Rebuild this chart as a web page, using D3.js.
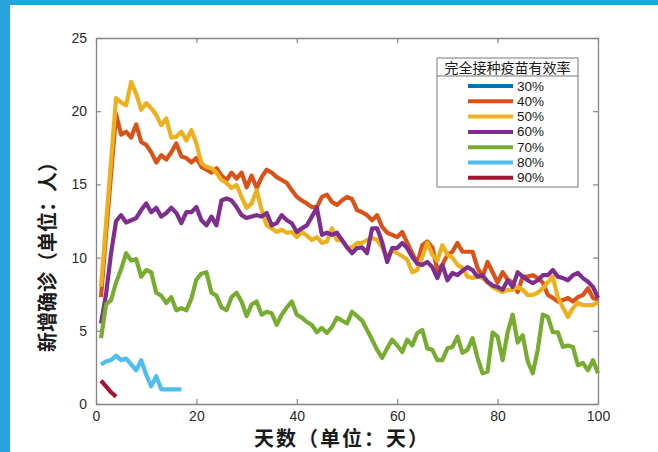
<!DOCTYPE html>
<html><head><meta charset="utf-8">
<script src="https://cdn.jsdelivr.net/npm/d3@7/dist/d3.min.js"></script>
<style>
html,body{margin:0;padding:0;background:#fff;}
svg{display:block;}
</style></head>
<body>
<script>
// ---- data ----
const seriesNames = ["30%","40%","50%","60%","70%","80%","90%"];
const seriesColors = ["#0072BD","#D95319","#EDB120","#7E2F8E","#77AC30","#4DBEEE","#A2142F"];
const xTicks = [0,20,40,60,80,100];
const yTicks = [0,5,10,15,20,25];
const legendTitle = "完全接种疫苗有效率";
const xTitle = "天数（单位：天）";
const yTitle = "新增确诊（单位：人）";

const eff30 = [];
const eff40 = [7.3,11.6,15.7,19.8,18.4,18.6,18.2,19.1,17.9,17.7,17.2,16.5,17.0,16.7,17.2,17.8,16.9,16.8,16.5,16.8,
16.2,16.0,15.8,16.1,15.6,15.3,15.8,15.4,15.8,14.8,15.6,14.75,15.5,16.0,15.8,15.5,15.3,15.1,14.6,14.15,
13.9,13.7,13.45,13.45,14.15,14.3,13.8,13.6,13.9,14.15,14.0,13.25,13.1,12.9,12.55,12.9,12.1,11.7,11.55,11.4,
11.75,11.0,10.3,9.6,10.85,11.1,10.7,9.15,9.5,10.2,10.4,11.0,10.4,10.4,10.4,9.3,8.7,9.7,9.0,8.3,
9.0,8.5,8.3,7.65,8.7,8.7,8.8,8.6,8.3,7.45,7.25,7.0,7.1,7.25,7.0,7.3,7.45,7.9,7.25,7.1];
const eff50 = [8.0,12.3,16.6,20.9,20.6,20.4,22.0,21.2,20.1,20.55,20.2,19.75,19.05,19.5,18.2,18.25,18.6,18.0,18.7,17.8,
16.45,16.2,16.1,15.8,15.3,15.1,14.75,14.95,14.15,13.4,13.7,14.6,13.25,12.2,12.0,11.75,11.9,11.7,11.75,11.4,
11.75,11.5,11.2,11.4,11.0,11.1,12.0,11.2,11.2,10.7,10.7,11.0,11.0,11.2,11.35,11.2,10.7,10.05,10.5,10.3,
10.1,9.85,9.0,9.15,10.05,11.0,10.2,9.8,10.85,10.2,10.0,9.5,9.3,8.7,8.6,8.7,8.6,8.3,8.0,7.8,
7.65,7.8,7.8,8.0,7.8,7.45,7.45,7.6,7.9,8.3,8.7,7.3,6.6,5.95,6.55,6.9,6.75,6.75,6.75,6.95];
const eff60 = [5.5,7.5,10.3,12.5,12.9,12.4,12.55,12.7,13.25,13.7,13.1,13.4,12.8,13.05,13.4,13.05,12.35,13.1,13.1,13.45,
12.55,12.2,12.8,12.2,13.9,14.05,13.9,13.45,12.9,12.7,12.8,12.9,12.8,13.05,12.2,12.35,12.9,12.55,12.35,11.75,
12.0,12.2,12.8,13.4,11.55,11.7,11.55,11.7,11.2,10.7,10.3,10.65,10.7,10.3,12.0,12.0,11.05,9.7,10.65,10.65,
11.0,10.65,10.05,9.6,9.5,9.7,9.35,8.6,9.5,8.45,8.95,8.8,9.1,9.35,9.15,8.7,8.8,8.35,8.1,8.0,
7.8,8.45,8.0,9.0,8.7,8.45,8.25,8.45,8.8,8.8,9.15,8.7,8.6,8.45,8.8,8.95,8.6,8.35,8.0,7.25];
const eff70 = [4.5,6.8,7.1,8.3,9.2,10.3,9.8,9.9,8.7,9.15,9.0,7.6,7.4,6.9,7.3,6.4,6.55,6.4,7.2,8.5,
8.9,9.0,7.6,7.4,6.6,6.4,7.3,7.6,7.0,6.0,6.8,7.0,6.1,6.3,6.2,5.4,6.1,6.6,7.0,6.1,
5.9,5.6,5.4,4.9,5.2,4.85,5.25,5.9,5.7,5.5,6.3,6.0,5.7,5.05,4.4,3.7,3.15,3.8,4.4,4.0,
3.55,4.4,4.0,4.85,5.05,3.8,3.7,3.0,3.0,3.8,3.9,4.6,3.5,3.7,4.5,3.15,2.1,2.2,4.9,4.6,
3.0,4.9,6.1,4.2,4.7,2.9,2.1,3.7,6.1,5.95,4.9,4.9,3.9,4.0,3.9,2.65,2.8,2.3,3.0,2.1];
const eff80 = [2.7,2.9,3.0,3.3,3.0,3.1,2.7,2.3,3.0,2.0,1.2,1.9,1.0,1.0,1.0,1.0,1.0];
const eff90 = [1.6,1.2,0.8,0.5];
const allSeries = [eff30,eff40,eff50,eff60,eff70,eff80,eff90];

// ---- chart ----
const W = 658, H = 452;
const svg = d3.select("body").append("svg").attr("width",W).attr("height",H);

// frame
svg.append("rect").attr("x",0).attr("y",0).attr("width",W).attr("height",H).attr("fill","#fff");
svg.append("rect").attr("x",0).attr("y",0).attr("width",W).attr("height",5).attr("fill","#2aa3dc");
svg.append("rect").attr("x",0).attr("y",0).attr("width",10).attr("height",H).attr("fill","#2aa3dc");

const x = d3.scaleLinear().domain([0,100]).range([96,598]);
const y = d3.scaleLinear().domain([0,25]).range([404,38]);
const axisColor = "#858585";

function styleAxis(g, labels){
  g.select(".domain").attr("stroke",axisColor).attr("stroke-width",1.3);
  g.selectAll(".tick line").attr("stroke",axisColor).attr("stroke-width",1.2);
  g.selectAll(".tick text").attr("fill","#2b2b2b")
    .style("font-family","'Liberation Sans', Arial, sans-serif").style("font-size","14px");
  if(!labels) g.selectAll(".tick text").remove();
}
const gB = svg.append("g").attr("transform",`translate(0,${y(0)})`)
  .call(d3.axisBottom(x).tickValues(xTicks).tickSizeInner(-5).tickSizeOuter(0).tickPadding(7));
styleAxis(gB,true);
const gT = svg.append("g").attr("transform",`translate(0,${y(25)})`)
  .call(d3.axisTop(x).tickValues(xTicks).tickSizeInner(-5).tickSizeOuter(0));
styleAxis(gT,false);
const gL = svg.append("g").attr("transform",`translate(${x(0)},0)`)
  .call(d3.axisLeft(y).tickValues(yTicks).tickSizeInner(-5).tickSizeOuter(0).tickPadding(9));
styleAxis(gL,true);
const gR = svg.append("g").attr("transform",`translate(${x(100)},0)`)
  .call(d3.axisRight(y).tickValues(yTicks).tickSizeInner(-5).tickSizeOuter(0));
styleAxis(gR,false);

// lines
const line = d3.line().x((d,i)=>x(i+1)).y(d=>y(d));
allSeries.forEach((s,k)=>{
  if(!s.length) return;
  svg.append("path").datum(s).attr("d",line).attr("fill","none")
    .attr("stroke",seriesColors[k]).attr("stroke-width",4.2)
    .attr("stroke-linejoin","round").attr("stroke-linecap","butt");
});

// axis titles
svg.append("text").attr("x",342).attr("y",446.2).attr("text-anchor","middle")
  .style("font-family","'Noto Sans CJK SC', sans-serif").style("font-weight","700")
  .style("font-size","20px").style("letter-spacing","2px").attr("fill","#1a1a1a").text(xTitle);
svg.append("text").attr("transform","translate(46,252) rotate(-90)").attr("text-anchor","middle")
  .attr("dominant-baseline","central")
  .style("font-family","'Noto Sans CJK SC', sans-serif").style("font-weight","700")
  .style("font-size","20px").attr("fill","#1a1a1a").text(yTitle);

// legend
const lg = svg.append("g");
lg.append("rect").attr("x",437).attr("y",58).attr("width",141).attr("height",129)
  .attr("fill","#fff").attr("stroke","#777").attr("stroke-width",1);
lg.append("line").attr("x1",437).attr("x2",578).attr("y1",76).attr("y2",76)
  .attr("stroke","#777").attr("stroke-width",1);
lg.append("text").attr("x",507.5).attr("y",67).attr("text-anchor","middle")
  .attr("dominant-baseline","central")
  .style("font-family","'Noto Sans CJK SC', sans-serif").style("font-size","14px")
  .attr("fill","#1a1a1a").text(legendTitle);
seriesNames.forEach((n,i)=>{
  const yy = 86 + i*15.3;
  lg.append("line").attr("x1",468).attr("x2",513).attr("y1",yy).attr("y2",yy)
    .attr("stroke",seriesColors[i]).attr("stroke-width",4);
  lg.append("text").attr("x",517).attr("y",yy).attr("dominant-baseline","central")
    .style("font-family","'Liberation Sans', Arial, sans-serif").style("font-size","13.5px")
    .attr("fill","#1a1a1a").text(n);
});
</script>
</body></html>
